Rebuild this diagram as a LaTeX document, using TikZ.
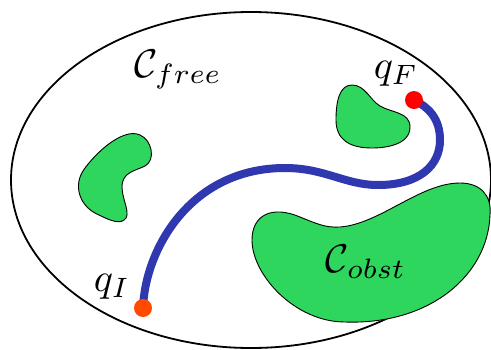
\documentclass[tikz,border=0pt]{standalone}
\begin{document}
\definecolor{obst}{RGB}{46,214,94}
\definecolor{pathblue}{RGB}{48,56,176}
\definecolor{qired}{RGB}{255,74,0}
\tikzset{
  blob/.style={draw=black, line width=0.9pt, fill=obst},
  lbl/.style={inner sep=0pt, scale=4.0, transform shape},
  dot/.style={circle, inner sep=0pt, minimum size=18pt}
}
\begin{tikzpicture}[x=1pt,y=-1pt]
\useasboundingbox (0,0) rectangle (491,349);
\draw[line width=1.8pt] (251,180) ellipse [x radius=240pt, y radius=168pt];
% obstacles
\draw[blob] (252,240) .. controls (252,215) and (272,205) .. (300,217)
  .. controls (315,223) and (325,228) .. (340,227)
  .. controls (380,224) and (420,183) .. (460,183)
  .. controls (480,183) and (492,195) .. (490,215)
  .. controls (488,275) and (430,325) .. (345,322)
  .. controls (295,322) and (252,275) .. (252,240) -- cycle;
\draw[blob] (140,135) .. controls (152,140) and (156,160) .. (145,166)
  .. controls (135,171) and (122,172) .. (122,187)
  .. controls (122,200) and (132,215) .. (124,220)
  .. controls (118,225) and (105,218) .. (95,213)
  .. controls (80,205) and (72,185) .. (85,168)
  .. controls (100,148) and (125,128) .. (140,135) -- cycle;
\draw[blob] (352,85) .. controls (365,85) and (370,100) .. (380,106)
  .. controls (392,113) and (410,112) .. (410,127)
  .. controls (410,145) and (385,148) .. (372,148)
  .. controls (350,148) and (336,140) .. (336,120)
  .. controls (336,100) and (340,85) .. (352,85) -- cycle;
% path
\coordinate (cI) at (143,308);
\coordinate (cF) at (414,100);
\draw[pathblue, line width=8pt] (cI) .. controls (145,250) and (190,168) .. (285,168)
  .. controls (325,168) and (345,185) .. (378,185)
  .. controls (420,185) and (440,165) .. (440,140)
  .. controls (440,118) and (428,107) .. (cF);
\node[dot, fill=qired] (qI) at (cI) {};
\node[dot, fill=red] (qF) at (cF) {};
% labels
\node[lbl] (cfree) at (178,70) {$\mathcal{C}_{free}$};
\node[lbl] (cobst) at (366,262) {$\mathcal{C}_{obst}$};
\node[lbl] (lqF) at (396,74) {$q_F$};
\node[lbl] (lqI) at (112,287) {$q_I$};
\end{tikzpicture}
\end{document}
